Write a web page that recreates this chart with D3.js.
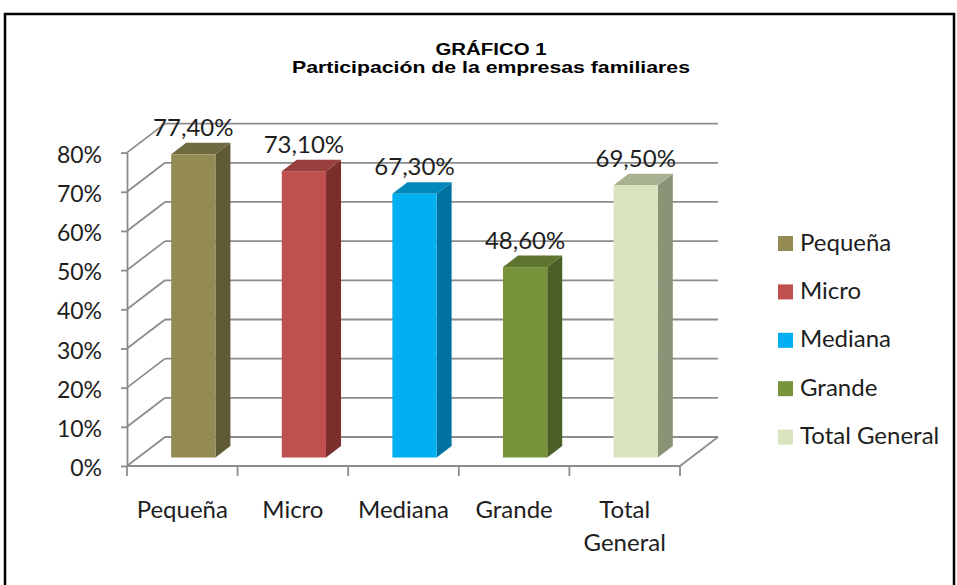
<!DOCTYPE html>
<html>
<head>
<meta charset="utf-8">
<script src="https://cdn.jsdelivr.net/npm/d3@7"></script>
<style>
  body { margin: 0; background: #fff; }
  text { font-family: Lato, "Open Sans", sans-serif; fill: #1e1e1e; }
</style>
</head>
<body>
<svg id="chart" width="957" height="585"></svg>
<script>
// datos del gráfico
const categories = ['Pequeña', 'Micro', 'Mediana', 'Grande', 'Total General'];
const values = [77.4, 73.1, 67.3, 48.6, 69.5];
const xTickLabels = [['Pequeña'], ['Micro'], ['Mediana'], ['Grande'], ['Total', 'General']];
const yTicks = [0, 10, 20, 30, 40, 50, 60, 70, 80];
const frontColors = ['#948a54', '#c0504d', '#00b0f0', '#77933c', '#d7e4bd'];
const sideColors = ['#5f5a36', '#7a2f2d', '#0072a0', '#4c5f26', '#8b9377'];
const topColors = ['#706a41', '#97403d', '#0088bb', '#5e752f', '#a8b293'];

const svg = d3.select('#chart');
const fontSize = '24px';

// marco
svg.append('rect')
    .attr('x', 5).attr('y', 14)
    .attr('width', 949).attr('height', 620)
    .attr('fill', 'none')
    .attr('stroke', '#000')
    .attr('stroke-width', 2.5);

// título
const titleStyle = sel => sel
    .attr('text-anchor', 'middle')
    .style('font-family', '"Liberation Sans", Arial, sans-serif')
    .style('font-weight', 'bold')
    .style('font-size', '17px')
    .style('fill', '#000');

svg.append('g')
    .attr('transform', 'translate(491,0) scale(1.2,1)')
    .append('text')
    .attr('y', 55.5)
    .call(titleStyle)
    .text('GRÁFICO 1');
svg.append('g')
    .attr('transform', 'translate(491,0) scale(1.25,1)')
    .append('text')
    .attr('y', 73)
    .call(titleStyle)
    .text('Participación de la empresas familiares');

// escalas
const x = d3.scaleBand()
    .domain(categories)
    .range([127, 680]);

const y = d3.scaleLinear()
    .domain([0, 80])
    .range([466, 152.6]);

const depthX = 38, depthY = 29;   // profundidad de la pared
const gridColor = '#8c8c8c';

const grid = svg.append('g')
    .attr('stroke', gridColor)
    .attr('stroke-width', 1.8)
    .attr('fill', 'none');

// líneas de la pared trasera y diagonales de la pared izquierda
yTicks.forEach(t => {
    grid.append('line')
        .attr('x1', x.range()[0] + depthX).attr('x2', x.range()[1] + depthX)
        .attr('y1', y(t) - depthY).attr('y2', y(t) - depthY);
    grid.append('line')
        .attr('x1', x.range()[0]).attr('x2', x.range()[0] + depthX)
        .attr('y1', y(t)).attr('y2', y(t) - depthY);
});

// piso: diagonal derecha
grid.append('line')
    .attr('x1', x.range()[1]).attr('x2', x.range()[1] + depthX)
    .attr('y1', y(0)).attr('y2', y(0) - depthY);

// eje y
const yAxis = d3.axisLeft(y)
    .tickValues(yTicks)
    .tickFormat(d => d + '%')
    .tickSize(6)
    .tickSizeOuter(0)
    .tickPadding(19);

const yg = svg.append('g')
    .attr('transform', `translate(${x.range()[0]},0)`)
    .call(yAxis);
yg.select('.domain').attr('stroke', gridColor).attr('stroke-width', 1.8);
yg.selectAll('.tick line').attr('stroke', gridColor).attr('stroke-width', 1.8);
yg.selectAll('.tick text')
    .attr('dy', '0.42em')
    .style('font-size', '23px')
    .style('font-family', 'Lato, sans-serif')
    .attr('fill', '#1e1e1e');

// eje x (línea frontal y marcas entre categorías)
svg.append('line')
    .attr('x1', x.range()[0]).attr('x2', x.range()[1])
    .attr('y1', y(0)).attr('y2', y(0))
    .attr('stroke', gridColor).attr('stroke-width', 1.8);

const boundaries = categories.map(c => x(c)).concat([x.range()[1]]);
svg.selectAll('.xtick')
    .data(boundaries)
    .join('line')
    .attr('class', 'xtick')
    .attr('x1', d => d).attr('x2', d => d)
    .attr('y1', y(0)).attr('y2', y(0) + 10)
    .attr('stroke', gridColor).attr('stroke-width', 1.8);

const xLabels = svg.selectAll('.xlabel')
    .data(categories)
    .join('text')
    .attr('class', 'xlabel')
    .attr('text-anchor', 'middle')
    .style('font-size', fontSize);
xLabels.each(function (c, i) {
    const t = d3.select(this);
    xTickLabels[i].forEach((line, j) => {
        t.append('tspan')
            .attr('x', x(c) + x.bandwidth() / 2)
            .attr('y', 518 + j * 32.5)
            .text(line);
    });
});

// barras 3D
const barW = x.bandwidth() * 0.4;
const shiftX = 11, shiftY = 8.5;   // posición de la cara frontal dentro de la profundidad
const bdx = 15, bdy = 11.5;        // profundidad de la barra

const fmt = d3.formatLocale({decimal: ',', thousands: '.', grouping: [3], currency: ['', '']}).format('.2f');

const bars = svg.selectAll('.bar')
    .data(categories)
    .join('g')
    .attr('class', 'bar');

bars.each(function (c, i) {
    const g = d3.select(this);
    const fx = x(c) + x.bandwidth() / 2 + shiftX - barW / 2;
    const top = y(values[i]) - shiftY;
    const bottom = y(0) - shiftY;

    g.append('polygon')
        .attr('points', [[fx + barW, top], [fx + barW + bdx, top - bdy], [fx + barW + bdx, bottom - bdy], [fx + barW, bottom]].join(' '))
        .attr('fill', sideColors[i]);
    g.append('polygon')
        .attr('points', [[fx, top], [fx + bdx, top - bdy], [fx + barW + bdx, top - bdy], [fx + barW, top]].join(' '))
        .attr('fill', topColors[i]);
    g.append('rect')
        .attr('x', fx).attr('y', top)
        .attr('width', barW).attr('height', bottom - top)
        .attr('fill', frontColors[i]);

    g.append('text')
        .attr('x', fx + barW / 2)
        .attr('y', top - bdy - 7)
        .attr('text-anchor', 'middle')
        .style('font-size', fontSize)
        .text(fmt(values[i]) + '%');
});

// leyenda
const legend = svg.append('g')
    .attr('transform', 'translate(778,236)');
categories.forEach((c, i) => {
    const row = legend.append('g').attr('transform', `translate(0,${i * 48.4})`);
    row.append('rect')
        .attr('width', 15).attr('height', 15)
        .attr('fill', frontColors[i]);
    row.append('text')
        .attr('x', 22).attr('y', 14.5)
        .style('font-size', fontSize)
        .text(c);
});
</script>
</body>
</html>
